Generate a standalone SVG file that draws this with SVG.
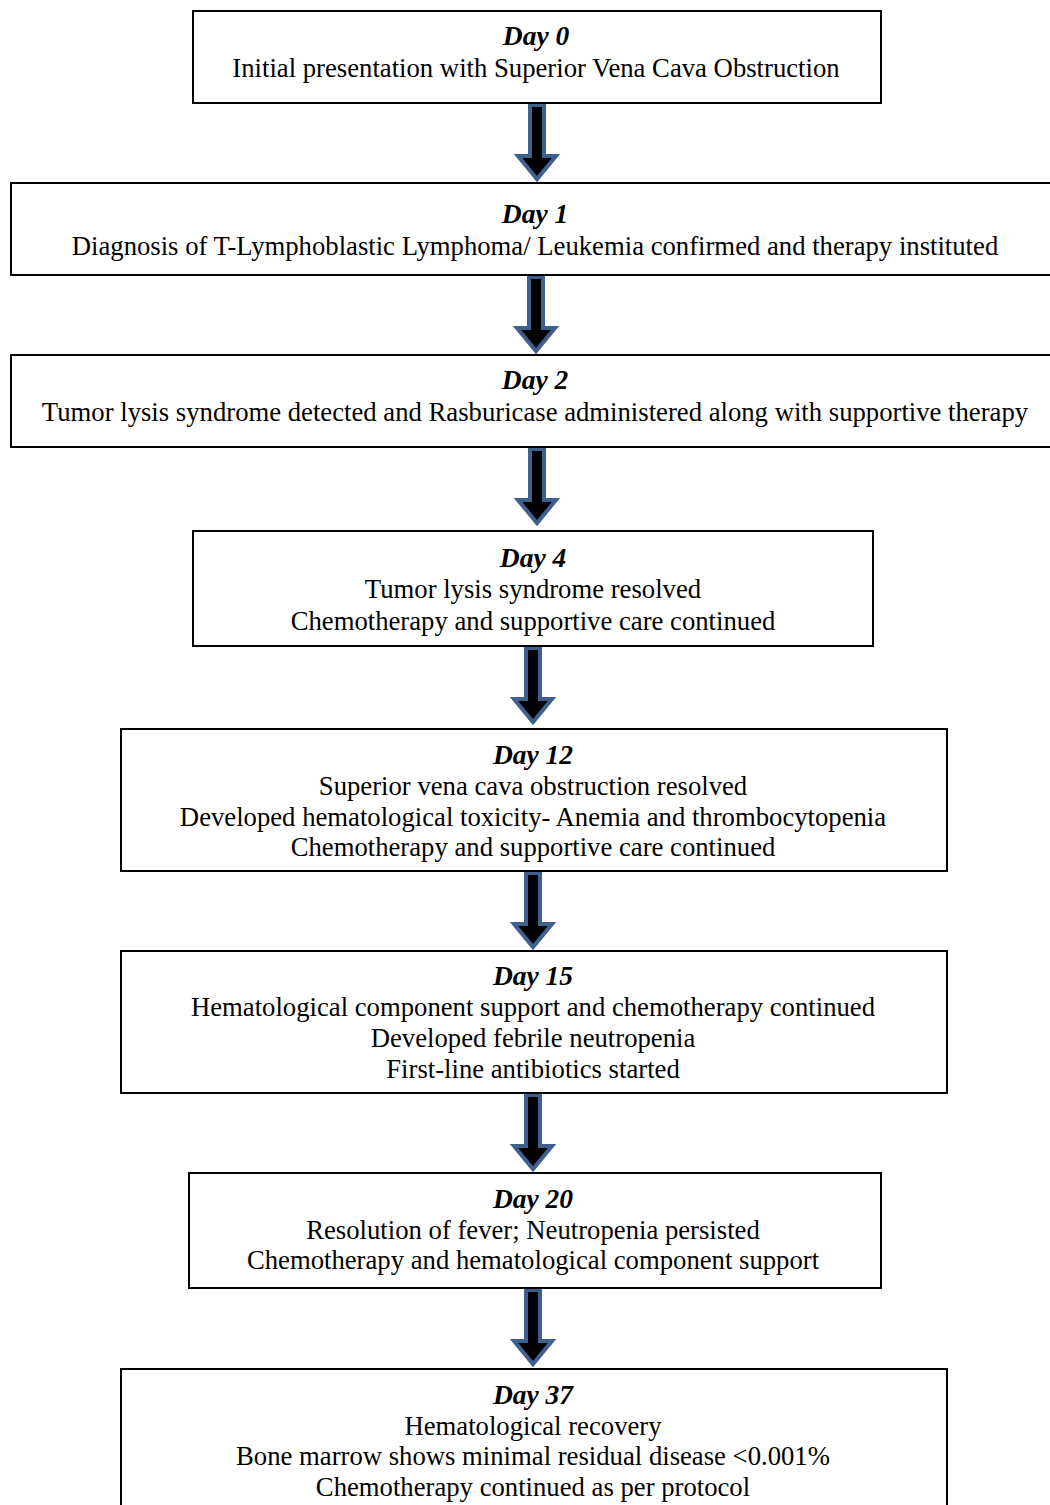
<svg xmlns="http://www.w3.org/2000/svg" width="1050" height="1505" viewBox="0 0 1050 1505">
<defs>
<style>
.box{fill:#fff;stroke:#000;stroke-width:2}
text{font-family:"Liberation Serif","Times New Roman",serif;font-size:26.7px;fill:#000;text-anchor:middle}
.h{font-weight:bold;font-style:italic;font-size:27.5px}
.arr{fill:#000;stroke:#3f5f8c;stroke-width:4;stroke-linejoin:miter}
</style>
<path id="ar" d="M-7,0 H7 V51 H19 L0,74 L-19,51 H-7 Z"/>
</defs>
<rect width="1050" height="1505" fill="#fff"/>
<g id="connectors">
<use href="#ar" class="arr" x="537" y="105"/>
<use href="#ar" class="arr" x="536" y="277"/>
<use href="#ar" class="arr" x="537" y="449"/>
<use href="#ar" class="arr" x="533" y="648"/>
<use href="#ar" class="arr" x="533" y="873"/>
<use href="#ar" class="arr" x="533" y="1095"/>
<use href="#ar" class="arr" x="533" y="1290"/>
</g>
<g id="day0">
<rect class="box" x="193" y="11" width="688" height="92"/>
<text x="536" y="45" class="h">Day 0</text>
<text x="536" y="77">Initial presentation with Superior Vena Cava Obstruction</text>
</g>
<g id="day1">
<rect class="box" x="11" y="183" width="1050" height="92"/>
<text x="535" y="223" class="h">Day 1</text>
<text x="535" y="255">Diagnosis of T-Lymphoblastic Lymphoma/ Leukemia confirmed and therapy instituted</text>
</g>
<g id="day2">
<rect class="box" x="11" y="355" width="1050" height="92"/>
<text x="535" y="389" class="h">Day 2</text>
<text x="535" y="421">Tumor lysis syndrome detected and Rasburicase administered along with supportive therapy</text>
</g>
<g id="day4">
<rect class="box" x="193" y="531" width="680" height="115"/>
<text x="533" y="567" class="h">Day 4</text>
<text x="533" y="598">Tumor lysis syndrome resolved</text>
<text x="533" y="630">Chemotherapy and supportive care continued</text>
</g>
<g id="day12">
<rect class="box" x="121" y="729" width="826" height="142"/>
<text x="533" y="764" class="h">Day 12</text>
<text x="533" y="795">Superior vena cava obstruction resolved</text>
<text x="533" y="826">Developed hematological toxicity- Anemia and thrombocytopenia</text>
<text x="533" y="856">Chemotherapy and supportive care continued</text>
</g>
<g id="day15">
<rect class="box" x="121" y="951" width="826" height="142"/>
<text x="533" y="985" class="h">Day 15</text>
<text x="533" y="1016">Hematological component support and chemotherapy continued</text>
<text x="533" y="1047">Developed febrile neutropenia</text>
<text x="533" y="1078">First-line antibiotics started</text>
</g>
<g id="day20">
<rect class="box" x="189" y="1173" width="692" height="115"/>
<text x="533" y="1208" class="h">Day 20</text>
<text x="533" y="1239">Resolution of fever; Neutropenia persisted</text>
<text x="533" y="1269">Chemotherapy and hematological component support</text>
</g>
<g id="day37">
<rect class="box" x="121" y="1369" width="826" height="160"/>
<text x="533" y="1404" class="h">Day 37</text>
<text x="533" y="1435">Hematological recovery</text>
<text x="533" y="1465">Bone marrow shows minimal residual disease &lt;0.001%</text>
<text x="533" y="1496">Chemotherapy continued as per protocol</text>
</g>
</svg>
